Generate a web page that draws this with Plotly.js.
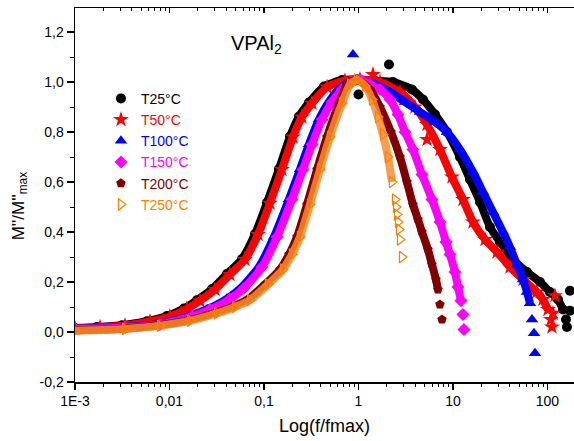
<!DOCTYPE html>
<html>
<head>
<meta charset="utf-8">
<script src="https://cdn.plot.ly/plotly-3.0.1.min.js"></script>
<style>html,body{margin:0;padding:0;background:#fff;}#chart{width:574px;height:441px;}</style>
</head>
<body>
<div id="chart"></div>
<script>
// ---- data (x = f/fmax, y = M''/M''max) ----
const seriesNames = ['T25°C', 'T50°C', 'T100°C', 'T150°C', 'T200°C', 'T250°C'];
const seriesColors = ['#000000', '#FF0000', '#0000FF', '#FF00FF', '#800000', '#FF8000'];

const t25X = [0.001, 0.00171, 0.00314, 0.00578, 0.0094, 0.0142, 0.0195, 0.0282, 0.0405, 0.0585, 0.0804, 0.1075, 0.1441, 0.1886, 0.2346, 0.2996, 0.4317, 0.669, 0.964, 1.495, 2.317, 3.681, 4.817, 6.457, 8.643, 11.85, 15.13, 19.32, 24.65, 31.41, 43.2, 60.7, 83.4, 106.2, 129.2, 145.9];
const t25Y = [0.016, 0.020, 0.027, 0.043, 0.064, 0.094, 0.127, 0.172, 0.232, 0.292, 0.392, 0.517, 0.652, 0.782, 0.862, 0.918, 0.982, 1.008, 1.010, 1.005, 1.000, 0.970, 0.930, 0.870, 0.800, 0.700, 0.610, 0.520, 0.420, 0.360, 0.290, 0.240, 0.200, 0.160, 0.130, 0.090];
const t25SparseX = [157.1, 160.8, 1.0, 2.102, 173.0, 173.0];
const t25SparseY = [0.050, 0.020, 0.950, 1.070, 0.165, 0.085];

const t50X = [0.001, 0.00184, 0.00338, 0.00622, 0.0101, 0.0153, 0.0210, 0.0303, 0.0436, 0.0629, 0.0865, 0.1156, 0.1549, 0.2028, 0.2523, 0.3221, 0.4642, 0.7194, 1.037, 1.689, 2.749, 3.962, 5.309, 7.278, 9.75, 12.76, 16.29, 21.82, 29.24, 40.1, 55.1, 77.0, 89.6, 101.2];
const t50Y = [0.015, 0.019, 0.026, 0.042, 0.062, 0.092, 0.125, 0.170, 0.230, 0.290, 0.390, 0.515, 0.650, 0.780, 0.860, 0.915, 0.980, 1.005, 1.010, 1.000, 0.960, 0.900, 0.830, 0.730, 0.620, 0.530, 0.440, 0.370, 0.320, 0.260, 0.210, 0.160, 0.130, 0.090];
const t50SparseX = [108.8, 111.6, 1.423, 5.309, 120.0, 114.4];
const t50SparseY = [0.050, 0.020, 1.030, 0.770, 0.145, 0.075];

const t100X = [0.001, 0.00314, 0.00737, 0.0161, 0.025, 0.0405, 0.0571, 0.0886, 0.1278, 0.1839, 0.2407, 0.2996, 0.3822, 0.4876, 0.6219, 0.7933, 0.964, 1.495, 2.155, 3.104, 4.477, 6.457, 8.643, 11.85, 16.29, 20.76, 26.49, 33.8, 40.1, 47.5, 55.1, 60.7, 65.3];
const t100Y = [0.013, 0.019, 0.031, 0.063, 0.091, 0.133, 0.176, 0.261, 0.381, 0.531, 0.651, 0.751, 0.851, 0.921, 0.971, 1.000, 1.010, 0.990, 0.960, 0.920, 0.880, 0.840, 0.800, 0.730, 0.640, 0.560, 0.480, 0.400, 0.340, 0.270, 0.210, 0.160, 0.115];
const t100SparseX = [68.6, 72.0, 73.8, 0.8741];
const t100SparseY = [0.050, -0.005, -0.085, 1.110];

const t150X = [0.001, 0.00338, 0.00793, 0.0173, 0.0269, 0.0436, 0.0614, 0.0953, 0.1374, 0.1977, 0.2588, 0.3221, 0.411, 0.5243, 0.6687, 0.853, 1.037, 1.324, 1.689, 2.155, 2.617, 3.104, 3.773, 4.699, 5.994, 7.278, 8.433, 9.29, 10.5, 11.29, 12.15];
const t150Y = [0.012, 0.018, 0.030, 0.062, 0.090, 0.132, 0.175, 0.260, 0.380, 0.530, 0.650, 0.750, 0.850, 0.920, 0.970, 1.000, 1.010, 0.990, 0.970, 0.930, 0.870, 0.800, 0.730, 0.630, 0.530, 0.440, 0.360, 0.310, 0.240, 0.180, 0.125];
const t150SparseX = [12.76, 13.07];
const t150SparseY = [0.070, 0.010];

const t200X = [0.001, 0.00314, 0.00737, 0.01535, 0.0296, 0.0458, 0.0661, 0.1023, 0.1477, 0.1839, 0.2236, 0.2853, 0.364, 0.464, 0.622, 0.755, 0.960, 1.324, 1.689, 2.208, 2.749, 3.258, 3.773, 4.265, 4.699, 5.437, 5.994, 6.607, 6.934];
const t200Y = [0.007, 0.013, 0.026, 0.046, 0.076, 0.101, 0.129, 0.190, 0.250, 0.310, 0.380, 0.510, 0.650, 0.780, 0.915, 0.990, 1.010, 0.970, 0.900, 0.800, 0.700, 0.600, 0.510, 0.450, 0.400, 0.330, 0.270, 0.210, 0.170];
const t200SparseX = [7.278, 7.655];
const t200SparseY = [0.110, 0.050];

const t250X = [0.001, 0.00338, 0.00793, 0.0165, 0.0318, 0.0493, 0.0711, 0.110, 0.1588, 0.1977, 0.2404, 0.3068, 0.3914, 0.499, 0.6687, 0.8123, 0.9638, 1.172, 1.39, 1.608, 1.817, 2.051, 2.261];
const t250Y = [0.005, 0.012, 0.025, 0.045, 0.075, 0.100, 0.128, 0.190, 0.250, 0.310, 0.380, 0.510, 0.650, 0.780, 0.915, 0.990, 1.010, 0.985, 0.930, 0.860, 0.790, 0.700, 0.600];
const t250SparseX = [2.432, 2.493, 2.553, 2.617, 2.683, 2.749, 2.885];
const t250SparseY = [0.530, 0.500, 0.470, 0.440, 0.410, 0.370, 0.300];

const xTickVals = [0.001, 0.01, 0.1, 1, 10, 100];
const xTickText = ['1E-3', '0,01', '0,1', '1', '10', '100'];
const yTickVals = [-0.2, 0, 0.2, 0.4, 0.6, 0.8, 1.0, 1.2];
const yTickText = ['-0,2', '0,0', '0,2', '0,4', '0,6', '0,8', '1,0', '1,2'];

// ---- build traces ----
const dense = [[t25X, t25Y], [t50X, t50Y], [t100X, t100Y], [t150X, t150Y], [t200X, t200Y], [t250X, t250Y]];
const sparse = [[t25SparseX, t25SparseY], [t50SparseX, t50SparseY], [t100SparseX, t100SparseY], [t150SparseX, t150SparseY], [t200SparseX, t200SparseY], [t250SparseX, t250SparseY]];
const symbols = ['circle', 'star', 'triangle-up', 'diamond', 'pentagon', 'triangle-right-open'];
const markerSizes = [10, 12, 11, 10, 10, 10];
const bandColors = ['#000000', '#FF0000', '#0000FF', '#FF00FF', '#800000', 'rgba(255,140,40,0.85)'];

const traces = [];
for (let i = 0; i < seriesNames.length; i++) {
  traces.push({
    x: dense[i][0], y: dense[i][1], type: 'scatter', mode: 'lines',
    line: {color: bandColors[i], width: 8, shape: 'spline', smoothing: 0.6},
    showlegend: false, hoverinfo: 'skip'
  });
  const open = symbols[i].indexOf('open') >= 0;
  traces.push({
    x: dense[i][0].concat(sparse[i][0]), y: dense[i][1].concat(sparse[i][1]),
    type: 'scatter', mode: 'markers',
    name: '<span style="color:' + seriesColors[i] + '">' + seriesNames[i] + '</span>',
    marker: {symbol: symbols[i], size: markerSizes[i], color: seriesColors[i],
             line: {width: open ? 1.2 : 0, color: seriesColors[i]}}
  });
}
// dummy trace to show the top axis
traces.push({x: [null], y: [null], xaxis: 'x2', yaxis: 'y', showlegend: false, hoverinfo: 'skip', mode: 'markers'});

const fontFam = 'Liberation Sans, Arial, sans-serif';
const layout = {
  width: 574, height: 441,
  margin: {l: 75, r: 0, t: 8, b: 59, pad: 0},
  paper_bgcolor: '#ffffff', plot_bgcolor: '#ffffff',
  font: {family: fontFam, size: 14, color: '#000'},
  showlegend: true,
  legend: {x: 0.052, y: 0.80, xanchor: 'left', yanchor: 'top', bgcolor: 'rgba(0,0,0,0)',
           font: {family: fontFam, size: 14}, itemwidth: 30, tracegroupgap: 0},
  xaxis: {
    type: 'log', range: [-3, 2.281], tickmode: 'array', tickvals: xTickVals, ticktext: xTickText,
    ticks: 'outside', ticklen: 6, tickwidth: 1.3, tickcolor: '#000',
    minor: {ticks: 'outside', ticklen: 3, tickwidth: 1, tickcolor: '#000', dtick: 'D1', showgrid: false},
    showline: true, linewidth: 1.5, linecolor: '#000', showgrid: false, zeroline: false,
    tickfont: {family: fontFam, size: 14},
    title: {text: 'Log(f/fmax)', font: {family: fontFam, size: 18}, standoff: 11}
  },
  xaxis2: {
    type: 'log', overlaying: 'x', side: 'top', anchor: 'y', range: [-3, 2.281], matches: 'x',
    tickmode: 'array', tickvals: xTickVals, ticks: 'inside', ticklen: 5, tickwidth: 1.2, tickcolor: '#000',
    minor: {ticks: 'inside', ticklen: 3, tickwidth: 1, tickcolor: '#000', dtick: 'D1', showgrid: false},
    showticklabels: false, showline: true, linewidth: 1.5, linecolor: '#000', showgrid: false, zeroline: false
  },
  yaxis: {
    range: [-0.2, 1.296], tickmode: 'array', tickvals: yTickVals, ticktext: yTickText,
    ticks: 'outside', ticklen: 7, tickwidth: 1.3, tickcolor: '#000',
    minor: {ticks: 'outside', ticklen: 4, tickwidth: 1, tickcolor: '#000', dtick: 0.1, tick0: 0, showgrid: false},
    showline: true, linewidth: 1.5, linecolor: '#000', showgrid: false, zeroline: false,
    tickfont: {family: fontFam, size: 14}
  },
  annotations: [{
    text: 'VPAl<sub>2</sub>', xref: 'paper', yref: 'paper', x: 0.364, y: 0.903,
    xanchor: 'center', yanchor: 'middle', showarrow: false,
    font: {family: fontFam, size: 20, color: '#000'}
  }, {
    text: "M''/M''<sub>max</sub>", xref: 'paper', yref: 'paper', x: -0.110, y: 0.47,
    xanchor: 'center', yanchor: 'middle', textangle: -90, showarrow: false,
    font: {family: fontFam, size: 17, color: '#000'}
  }]
};

Plotly.newPlot('chart', traces, layout, {staticPlot: true, displayModeBar: false});
</script>
</body>
</html>
